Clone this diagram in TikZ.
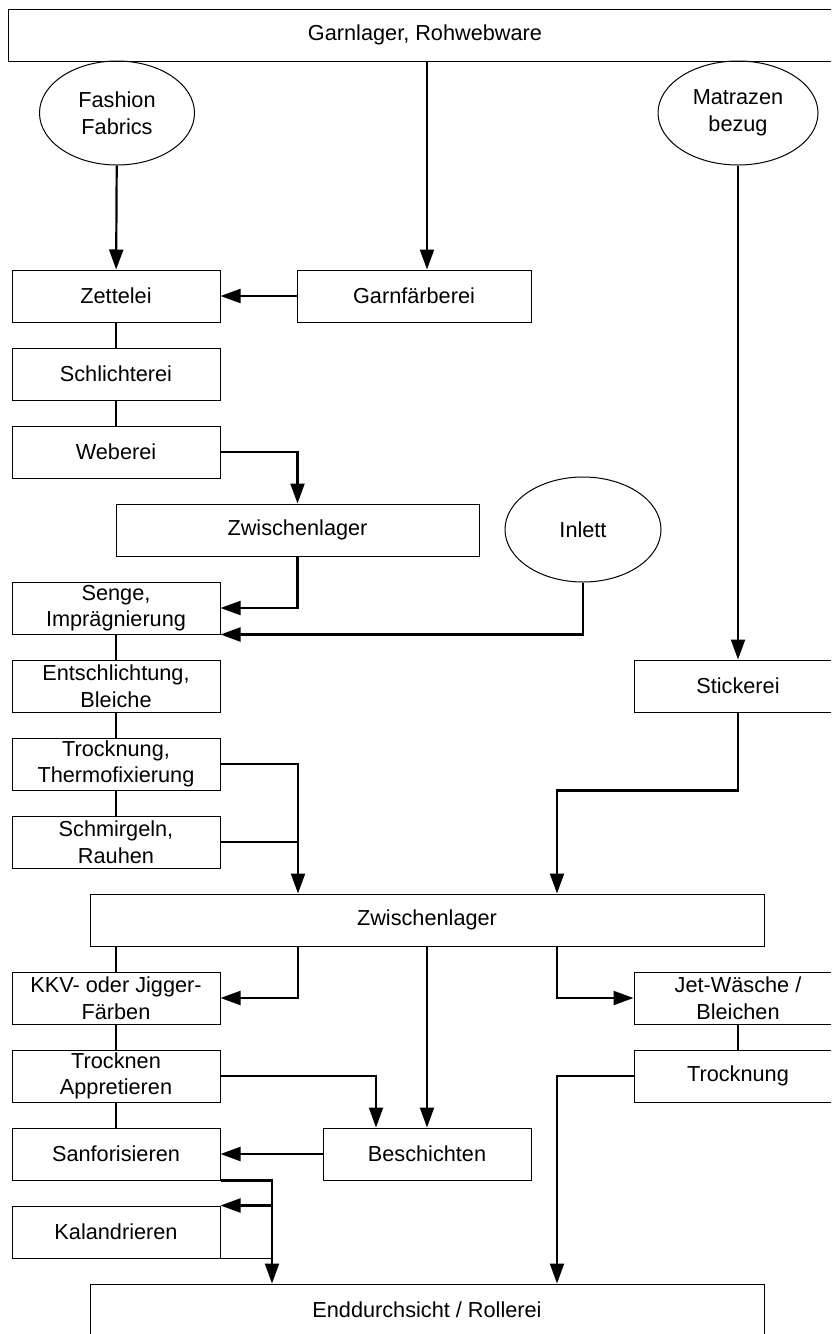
\documentclass[tikz,border=0pt]{standalone}
\usepackage{fontspec}
\setmainfont{Liberation Sans}
\usetikzlibrary{arrows.meta,shapes.geometric}
\newcommand{\lbl}{\fontsize{21.7}{26.5}\selectfont}
\tikzset{
  pb/.style={rectangle, draw=black, line width=1pt, minimum width=208pt,
             minimum height=52pt, inner sep=1pt, align=center, font=\lbl},   % process box
  src/.style={ellipse, draw=black, line width=1pt, minimum width=156pt,
              minimum height=104pt, inner sep=0pt, align=center, font=\lbl}, % source
  ln/.style={draw=black, line width=1.5pt},                                  % plain link
  fl/.style={draw=black, line width=2.2pt, -{Triangle[length=20pt,width=14pt]}}, % flow
}

\begin{document}
\begin{tikzpicture}[x=1pt,y=-1pt]
  \useasboundingbox (0,0) rectangle (831,1334);
  \clip (0,0) rectangle (831,1334);
  % top row
  \node[pb, minimum width=834pt] (garn) at (425,35) {Garnlager, Rohwebware};
  \node[src, minimum width=155pt] (fash) at (117,113) {Fashion\\Fabrics};
  \node[src, minimum width=160pt] (matr) at (738,113) {Matrazen\\bezug};
  % weaving
  \node[pb] (zett) at (116,296) {Zettelei};
  \node[pb, minimum width=234pt] (garnf) at (414,296) {Garnfärberei};
  \node[pb] (schl) at (116,374) {Schlichterei};
  \node[pb] (webe) at (116,452) {Weberei};
  \node[pb, minimum width=363pt] (zwa) at (297.5,530) {Zwischenlager};
  \node[src, minimum height=105pt] (inl) at (583,529.5) {Inlett};
  % pretreatment
  \node[pb] (seng) at (116,608) {Senge,\\Imprägnierung};
  \node[pb] (ents) at (116,686) {Entschlichtung,\\Bleiche};
  \node[pb] (trth) at (116,764) {Trocknung,\\Thermofixierung};
  \node[pb] (schm) at (116,842) {Schmirgeln,\\Rauhen};
  \node[pb] (stick) at (738,686) {Stickerei};
  \node[pb, minimum width=674pt] (zwb) at (427,920) {Zwischenlager};
  % finishing
  \node[pb] (kkv) at (116,998) {KKV- oder Jigger-\\Färben};
  \node[pb] (jet) at (738,998) {Jet-Wäsche /\\Bleichen};
  \node[pb] (trap) at (116,1076) {Trocknen\\Appretieren};
  \node[pb] (trjt) at (738,1076) {Trocknung};
  \node[pb] (sanf) at (116,1154) {Sanforisieren};
  \node[pb] (besc) at (427,1154) {Beschichten};
  \node[pb] (kala) at (116,1232) {Kalandrieren};
  \node[pb, minimum width=674pt] (endr) at (427,1310) {Enddurchsicht / Rollerei};

  \coordinate (ja) at ([xshift=-129pt]zwb.north);
  \coordinate (jb) at ([xshift=130pt]zwb.north);
  \coordinate (jc) at ([xshift=-155pt]endr.north);
  \coordinate (jd) at ([xshift=130pt]endr.north);

  \foreach \u/\v in {zett/schl,schl/webe,seng/ents,ents/trth,trth/schm,
                     kkv/trap,trap/sanf,jet/trjt} \draw[ln] (\u)--(\v);

  \draw[fl] (fash) -- (zett);
  \draw[fl] ([xshift=13pt]garnf.north |- garn.south) -- ([xshift=13pt]garnf.north);
  \draw[fl] (garnf) -- (zett);
  \draw[fl] (webe.east) -| (zwa.north);
  \draw[fl] (zwa.south) |- (seng.east);
  \draw[fl] (inl.south) |- (seng.south east);
  \draw[fl] (trth.east) -| (ja);
  \draw[ln] (schm.east) -- (schm.east -| ja);
  \draw[fl] (matr) -- (stick);
  \draw[fl] (stick.south) -- ++(0,78) -| (jb);
  \draw[ln] (zwb.south -| kkv.north) -- (kkv.north);
  \draw[fl] (zwb.south -| ja) |- (kkv.east);
  \draw[fl] (zwb.south) -- (besc.north);
  \draw[fl] (zwb.south -| jb) |- (jet.west);
  \draw[fl] (trap.east) -| ([xshift=-51pt]besc.north);
  \draw[fl] (besc) -- (sanf);
  \draw[fl] (sanf.south east) -| (jc);
  \draw[fl] (kala.north east -| jc) -- (kala.north east);
  \draw[ln] (kala.south east) -- (kala.south east -| jc);
  \draw[fl] (trjt.west) -| (jd);
\end{tikzpicture}
\end{document}
